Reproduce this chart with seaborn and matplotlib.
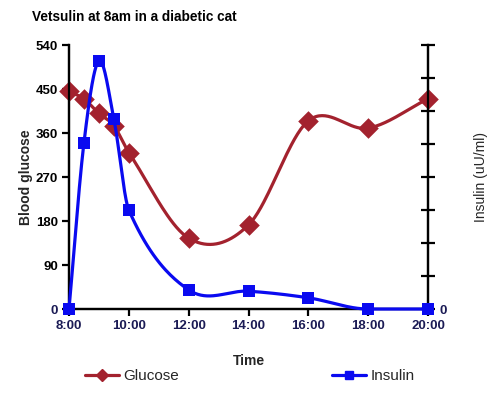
import numpy as np
import pandas as pd
import matplotlib
matplotlib.use("Agg")
import matplotlib.pyplot as plt
from matplotlib.lines import Line2D
import seaborn as sns

sns.set_theme(style="white")
plt.rcParams['font.family'] = ['Liberation Sans', 'DejaVu Sans']

# Data
hours = [8, 8.5, 9, 9.5, 10, 12, 14, 16, 18, 20]
glucose = [445, 430, 400, 375, 320, 145, 172, 385, 370, 430]
insulin = [0, 25.2, 37.6, 28.8, 15.0, 2.9, 2.7, 1.7, 0, 0]
time_ticks = [8, 10, 12, 14, 16, 18, 20]
time_labels = ["8:00", "10:00", "12:00", "14:00", "16:00", "18:00", "20:00"]

GLU_COL = "#A3222E"
INS_COL = "#0A0AF0"
NAVY = "#1b1b55"


def smooth(x, y, n=40):
    """Hermite curve through the points using finite-difference slopes."""
    x = np.asarray(x, float)
    y = np.asarray(y, float)
    d = np.diff(y) / np.diff(x)
    m = np.zeros_like(y)
    m[0] = d[0]
    m[-1] = d[-1]
    m[1:-1] = (y[2:] - y[:-2]) / (x[2:] - x[:-2])
    # keep flat stretches flat
    for i in range(len(d)):
        if d[i] == 0:
            m[i] = 0
            m[i + 1] = 0
    xs, ys = [], []
    for i in range(len(x) - 1):
        h = x[i + 1] - x[i]
        t = np.linspace(0, 1, n)
        h00 = 2 * t**3 - 3 * t**2 + 1
        h10 = t**3 - 2 * t**2 + t
        h01 = -2 * t**3 + 3 * t**2
        h11 = t**3 - t**2
        xs.append(x[i] + t * h)
        ys.append(h00 * y[i] + h10 * h * m[i] + h01 * y[i + 1] + h11 * h * m[i + 1])
    return np.concatenate(xs), np.concatenate(ys)


df = pd.DataFrame({"hour": hours, "glucose": glucose, "insulin": insulin})

fig = plt.figure(figsize=(5.0, 3.94), dpi=100)
ax = fig.add_axes([0.138, 0.2157, 0.718, 0.67])
ax2 = ax.twinx()

# Glucose (left axis)
gx, gy = smooth(hours, glucose)
ax.plot(gx, gy, color=GLU_COL, lw=2.3, clip_on=False, zorder=3)
sns.scatterplot(data=df, x="hour", y="glucose", ax=ax, marker="D", s=110,
                color=GLU_COL, linewidth=0, clip_on=False, zorder=4)

# Insulin (right axis)
ix, iy = smooth(hours, insulin)
ax2.plot(ix, iy, color=INS_COL, lw=2.3, clip_on=False, zorder=3)
sns.scatterplot(data=df, x="hour", y="insulin", ax=ax2, marker="s", s=78,
                color=INS_COL, linewidth=0, clip_on=False, zorder=4)

ax.set_xlim(8, 20)
ax.set_ylim(0, 540)
ax2.set_ylim(0, 40)

ax.set_xticks(time_ticks)
ax.set_xticklabels(time_labels, fontsize=9.5, fontweight="bold", color=NAVY)
ax.set_yticks(range(0, 541, 90))
ax.set_yticklabels([str(v) for v in range(0, 541, 90)], fontsize=9.5,
                   fontweight="bold", color="black")
ax.get_yticklabels()[0].set_color(NAVY)

ax2.set_yticks(range(0, 41, 5))
ax2.set_yticklabels(["0"] + [""] * 8, fontsize=9.5, fontweight="bold", color=NAVY)

for a in (ax, ax2):
    a.spines["top"].set_visible(False)
    for s in a.spines.values():
        s.set_color("black")
        s.set_linewidth(1.6)

ax.tick_params(axis="both", direction="out", length=5, width=1.6, color="black",
               left=True, bottom=True, pad=3)
ax2.tick_params(axis="y", direction="inout", length=10, width=1.6, color="black",
                right=True, pad=3)

ax.set_xlabel("Time", fontsize=10, fontweight="bold", labelpad=16)
ax.set_ylabel("Blood glucose", fontsize=10, fontweight="bold", labelpad=2)
ax2.set_ylabel("Insulin (uU/ml)", fontsize=10, labelpad=20)

fig.text(0.064, 0.957, "Vetsulin at 8am in a diabetic cat", fontsize=9.8,
         fontweight="bold", color="black", va="center")

handles = [
    Line2D([], [], color=GLU_COL, lw=2.3, marker="D", ms=6),
    Line2D([], [], color=INS_COL, lw=2.3, marker="s", ms=6),
]
fig.legend(handles, ["Glucose", "Insulin"], loc="center",
           bbox_to_anchor=(0.5, 0.045), ncol=2, frameon=False, fontsize=11,
           handlelength=2.2, handletextpad=0.3, columnspacing=10.0)

fig.savefig("out.png", dpi=100)
